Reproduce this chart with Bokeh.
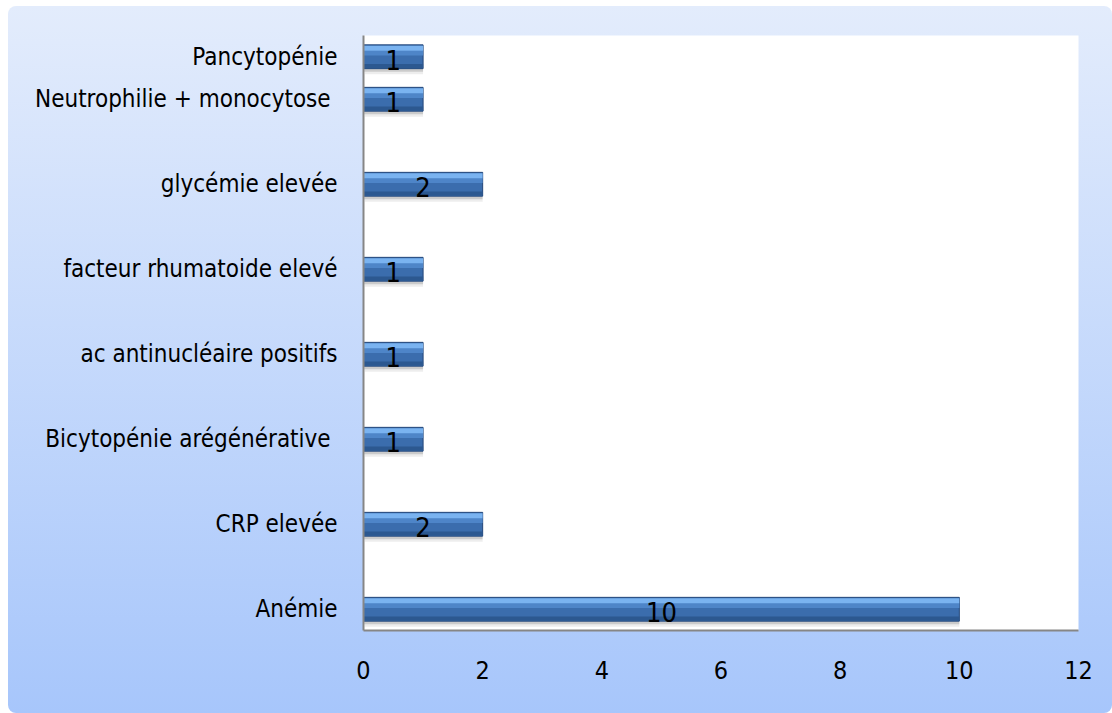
from bokeh.plotting import figure
from bokeh.models import FixedTicker, ColumnDataSource
from bokeh.embed import file_html
from bokeh.resources import INLINE

# Rows of the chart from bottom to top ("" = empty row left in the sheet)
rows = ["Anémie", "", "CRP elevée", "", "Bicytopénie arégénérative ", "",
        "ac antinucléaire positifs", "", "facteur rhumatoide elevé", "",
        "glycémie elevée", "", "Neutrophilie + monocytose ", "Pancytopénie"]
values = [10, None, 2, None, 1, None, 1, None, 1, None, 2, None, 1, 1]
x_ticks = [0, 2, 4, 6, 8, 10, 12]

pos = [i for i, v in enumerate(values) if v is not None]
vals = [values[i] for i in pos]
labels = {i: rows[i] for i in pos}

src = ColumnDataSource(dict(
    y=pos, v=vals, half=[v / 2 for v in vals], txt=[str(v) for v in vals],
    ys1=[y - 0.07 for y in pos], ys2=[y - 0.12 for y in pos],
    yh=[y + 0.20 for y in pos], ym=[y + 0.09 for y in pos],
    yd=[y - 0.22 for y in pos],
))

FONT = "DejaVu Sans Condensed, Roboto"

p = figure(width=1104, height=707, x_range=(0, 12), y_range=(-0.5, 13.5),
           output_backend="svg", toolbar_location=None,
           min_border_left=355, min_border_right=34, min_border_top=29,
           min_border_bottom=83)
p.margin = (6, 0, 0, 8)
p.styles = {"background": "linear-gradient(#E3ECFC, #A7C6FB)",
            "border-radius": "8px"}
p.border_fill_alpha = 0
p.background_fill_color = "white"
p.outline_line_color = None
p.grid.visible = False

# shadows
p.hbar(y="ys2", left=0.02, right="v", height=0.58, source=src,
       fill_color="#000000", fill_alpha=0.07, line_color=None)
p.hbar(y="ys1", left=0.0, right="v", height=0.56, source=src,
       fill_color="#000000", fill_alpha=0.14, line_color=None)
# main bar
p.hbar(y="y", left=0, right="v", height=0.56, source=src,
       fill_color="#3B6DAD", line_color="#24477A", line_width=1)
# bevel bands
p.hbar(y="yd", left=0, right="v", height=0.10, source=src,
       fill_color="#2C5890", line_color=None)
p.hbar(y="ym", left=0, right="v", height=0.12, source=src,
       fill_color="#4E85C8", line_color=None)
p.hbar(y="yh", left=0, right="v", height=0.12, source=src,
       fill_color="#7AB3F0", line_color=None)

p.text(x="half", y="y", text="txt", source=src, text_align="center",
       text_baseline="middle", text_font_size="27px", text_color="black",
       text_font={"value": FONT}, y_offset=3)

for ax in (p.xaxis, p.yaxis):
    ax.axis_line_color = "#868686"
    ax.axis_line_width = 2
    ax.major_tick_line_color = None
    ax.minor_tick_line_color = None
    ax.major_tick_out = 0
    ax.major_tick_in = 0
    ax.major_label_text_font = FONT
    ax.major_label_text_color = "black"

p.xaxis.major_label_text_font_size = "25px"
p.yaxis.major_label_text_font_size = "24px"
p.xaxis.ticker = FixedTicker(ticks=x_ticks)
p.xaxis.major_label_standoff = 30
p.yaxis.ticker = FixedTicker(ticks=pos)
p.yaxis.major_label_overrides = labels
p.yaxis.major_label_standoff = 26

open("out.html", "w").write(file_html(p, INLINE))
